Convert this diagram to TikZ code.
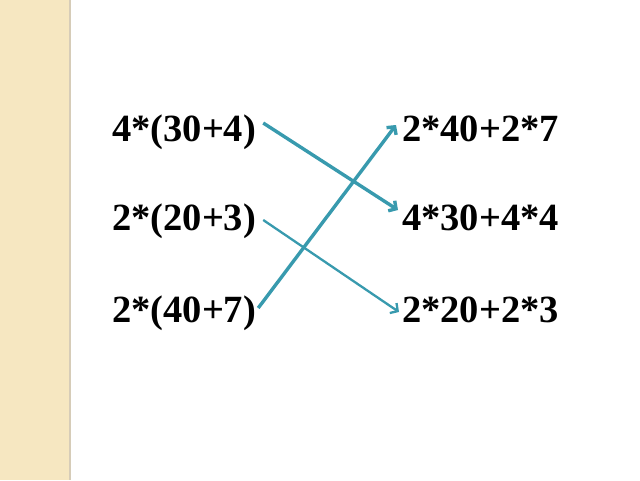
\documentclass[tikz,border=0pt]{standalone}
\usepackage{fontspec}
\setmainfont{Liberation Serif}
\usetikzlibrary{arrows.meta}
\definecolor{strip}{RGB}{246,231,193}
\definecolor{stripedge}{RGB}{214,204,184}
\definecolor{teal}{RGB}{56,154,174}
\begin{document}
\begin{tikzpicture}[x=1pt,y=-1pt,
  expr/.style={anchor=base west,inner sep=0pt,font=\fontsize{38.5}{40}\selectfont\bfseries},
  link/.style={draw=teal,-{Straight Barb[length=5.5pt,width=12pt]}},
  thick link/.style={link,line width=3.4pt},
  thin link/.style={link,line width=2.3pt}]
\useasboundingbox (0,0) rectangle (640,480);
\fill[strip] (0,0) rectangle (69,480);
\fill[stripedge] (68.5,0) rectangle (71,480);
\node[expr] (l1) at (112,141) {4*(30+4)};
\node[expr] (l2) at (112,230) {2*(20+3)};
\node[expr] (l3) at (112,322) {2*(40+7)};
\node[expr] (r1) at (402,141) {2*40+2*7};
\node[expr] (r2) at (402,230) {4*30+4*4};
\node[expr] (r3) at (402,322) {2*20+2*3};
\draw[thick link] ([xshift=7pt,yshift=18pt]l1.base east) -- ([xshift=-4pt,yshift=20pt]r2.base west);
\draw[thin link] ([xshift=7pt,yshift=10pt]l2.base east) -- ([xshift=-3pt,yshift=10pt]r3.base west);
\draw[thick link] ([xshift=2pt,yshift=14pt]l3.base east) -- ([xshift=-6pt,yshift=16pt]r1.base west);
\end{tikzpicture}
\end{document}
